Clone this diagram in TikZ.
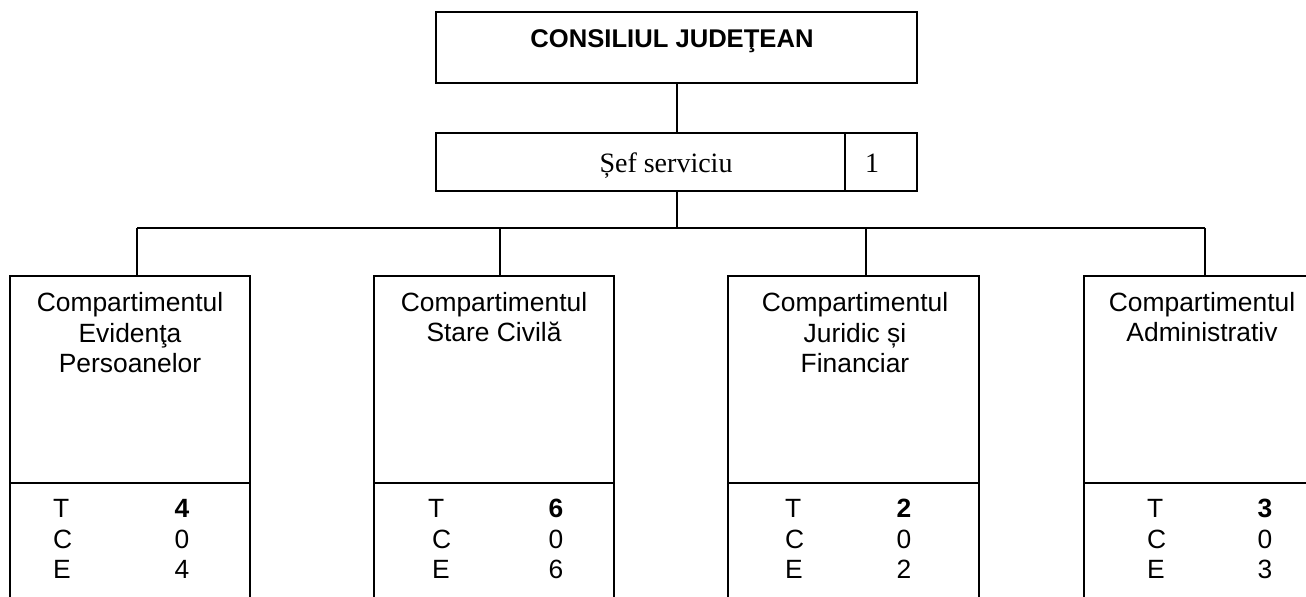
\documentclass[tikz,border=0pt]{standalone}
\usepackage{fontspec}
\setmainfont{Liberation Sans}
\newfontfamily\tnr{Liberation Serif}
\begin{document}
\begin{tikzpicture}[x=0.5pt,y=-0.5pt,
  box/.style={draw,line width=0.8pt,rectangle,inner sep=0pt,outer sep=0pt,anchor=north west},
  lbl/.style={inner sep=0pt,outer sep=0pt,font=\fontsize{13.2}{15.3}\selectfont},
  ttl/.style={inner sep=0pt,font=\fontsize{12.8}{14}\selectfont\bfseries},
  srv/.style={inner sep=0pt,font=\fontsize{14}{16}\selectfont\tnr},
  conn/.style={line width=0.8pt}]
\clip (0,0) rectangle (1306,597);
\fill[white] (0,0) rectangle (1306,597);
% top boxes
\node[box,minimum width=240.5pt,minimum height=35.5pt] (cj) at (436,12) {};
\node[ttl,anchor=base] (cjt) at (672,48) {CONSILIUL JUDEŢEAN};
\node[box,minimum width=204.5pt,minimum height=29pt] (sef) at (436,133) {};
\node[box,minimum width=36pt,minimum height=29pt] (sefn) at (845,133) {};
\node[srv,anchor=base] (seft) at (666,173) {Șef serviciu};
\node[srv,anchor=base] (sefnt) at (872,173) {1};
% department boxes
\node[box,minimum width=120pt,minimum height=103.5pt] (b1) at (10,276) {};
\node[box,minimum width=120pt,minimum height=68.5pt] (c1) at (10,483) {};
\node[box,minimum width=120pt,minimum height=103.5pt] (b2) at (374,276) {};
\node[box,minimum width=120pt,minimum height=68.5pt] (c2) at (374,483) {};
\node[box,minimum width=125.5pt,minimum height=103.5pt] (b3) at (728,276) {};
\node[box,minimum width=125.5pt,minimum height=68.5pt] (c3) at (728,483) {};
\node[box,minimum width=118pt,minimum height=103.5pt] (b4) at (1084,276) {};
\node[box,minimum width=118pt,minimum height=68.5pt] (c4) at (1084,483) {};
% titles
\node[lbl,align=center,anchor=base] (n1) at (130,373) {Compartimentul\\Evidenţa\\Persoanelor};
\node[lbl,align=center,anchor=base] (n2) at (494,342) {Compartimentul\\Stare Civilă};
\node[lbl,align=center,anchor=base] (n3) at (855,373) {Compartimentul\\Juridic și\\Financiar};
\node[lbl,align=center,anchor=base] (n4) at (1202,342) {Compartimentul\\Administrativ};
% staff counts
\foreach \n/\tx/\cx/\nx/\t/\c/\e in {1/53/53/182/4/0/4, 2/428/432/556/6/0/6, 3/785/785/904/2/0/2, 4/1147/1147/1265/3/0/3}{
  \node[lbl,anchor=base west] (T\n) at (\tx,518) {T};
  \node[lbl,anchor=base west] (C\n) at (\cx,549) {C};
  \node[lbl,anchor=base west] (E\n) at (\cx,579) {E};
  \node[lbl,anchor=base,font=\fontsize{13.2}{15.3}\selectfont\bfseries] (vt\n) at (\nx,518) {\t};
  \node[lbl,anchor=base] (vc\n) at (\nx,549) {\c};
  \node[lbl,anchor=base] (ve\n) at (\nx,579) {\e};
}
% connectors
\coordinate (bus) at (677,228);
\coordinate (br1) at (137,228);
\coordinate (br2) at (500,228);
\coordinate (br3) at (866,228);
\coordinate (br4) at (1205,228);
\draw[conn] (cj.south -| bus) -- (sef.north -| bus);
\draw[conn] (sef.south -| bus) -- (bus);
\draw[conn] (br1) -- (br4);
\draw[conn] (br1) -- (br1 |- b1.north);
\draw[conn] (br2) -- (br2 |- b2.north);
\draw[conn] (br3) -- (br3 |- b3.north);
\draw[conn] (br4) -- (br4 |- b4.north);
\end{tikzpicture}
\end{document}
